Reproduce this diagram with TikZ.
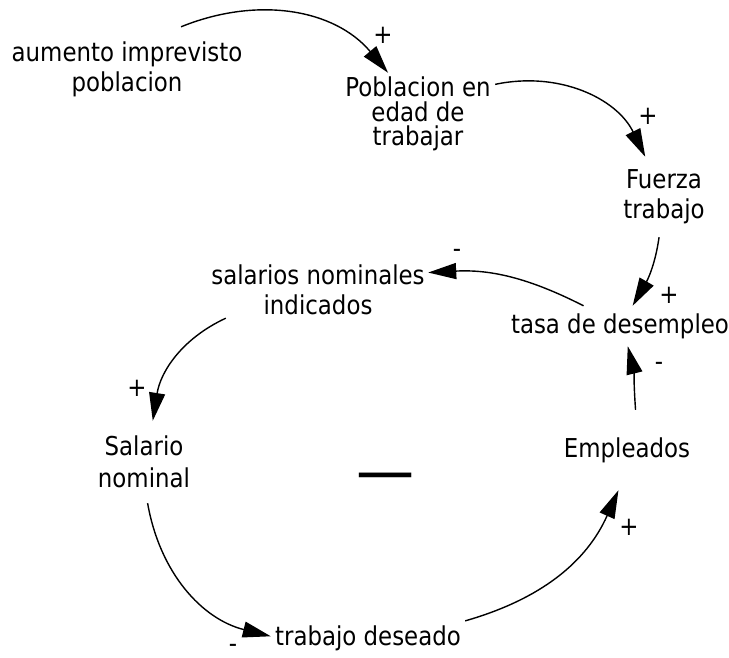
\documentclass[tikz,border=0pt]{standalone}
\usepackage{fontspec}
\setmainfont{DejaVu Sans}[FakeStretch=0.88]
\usetikzlibrary{arrows.meta}

\begin{document}
\begin{tikzpicture}[x=1pt,y=1pt,>={Triangle[length=28pt,width=16pt]},
  var/.style={inner sep=0pt,align=center,font=\fontsize{26}{30}\selectfont},
  link/.style={->,line width=1.4pt},
  pol/.style={inner sep=0pt,font=\fontsize{26}{30}\selectfont}]
\useasboundingbox (0,0) rectangle (729,657);
% variables
\node[var,minimum width=236pt,minimum height=84pt] (aum) at (127,588) {aumento imprevisto\\poblacion};
\node[var,minimum width=154pt,minimum height=82pt,font=\fontsize{26}{24.5}\selectfont] (pob) at (418,543) {Poblacion en\\edad de\\trabajar};
\node[var,minimum width=90pt,minimum height=80pt] (fue) at (664,460) {Fuerza\\trabajo};
\node[var,minimum width=230pt,minimum height=40pt] (tasa) at (620,331) {tasa de desempleo};
\node[var,minimum width=220pt,minimum height=56pt] (sal) at (318,367) {salarios nominales\\indicados};
\node[var,minimum width=90pt,minimum height=82pt,font=\fontsize{26}{32}\selectfont] (snom) at (144,195) {Salario\\nominal};
\node[var,minimum width=194pt,minimum height=36pt] (tdes) at (368,19) {trabajo deseado};
\node[var,minimum width=150pt,minimum height=80pt] (emp) at (627,207) {Empleados};
% links
\draw[link] (aum.38) to[out=22,in=130] (pob.126);
\draw[link] (pob.21) to[out=12,in=116] (fue.115);
\draw[link] (fue.263) to[out=262,in=60] (tasa.58);
\draw[link] (tasa.151) to[out=153,in=3] (sal.9);
\draw[link] (sal.197) to[out=205,in=81] (snom.78);
\draw[link] (snom.275) to[out=280,in=166] (tdes.179);
\draw[link] (tdes.10) to[out=16,in=246] (emp.258);
\draw[link] (emp.78) to[out=94,in=284] (tasa.291);
% polarities
\node[pol] (p1) at (383,622) {+};
\node[pol] (p2) at (648,541) {+};
\node[pol] (p3) at (669,362) {+};
\node[pol] (p4) at (457,404) {-};
\node[pol] (p5) at (137,269) {+};
\node[pol] (p6) at (233,9) {-};
\node[pol] (p7) at (629,130) {+};
\node[pol] (p8) at (659,291) {-};
% loop
\node[inner sep=0pt,font=\fontsize{66}{66}\selectfont] (loop) at (385.5,174) {—};
\end{tikzpicture}
\end{document}
